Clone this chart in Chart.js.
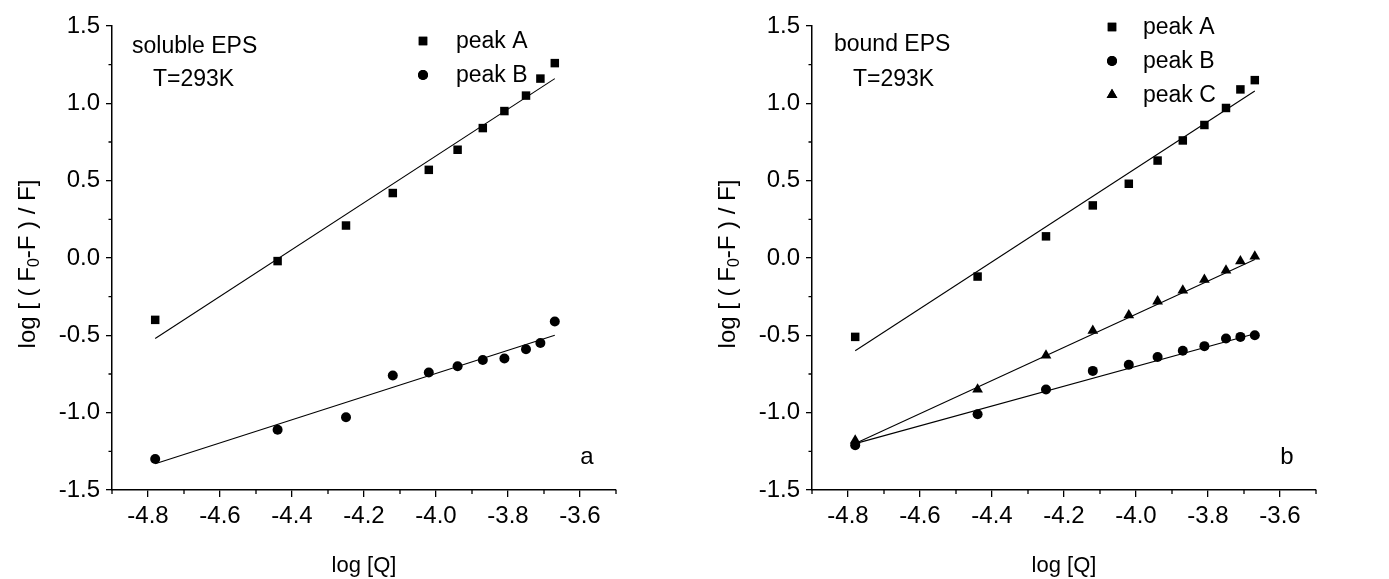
<!DOCTYPE html>
<html><head><meta charset="utf-8">
<script src="https://cdn.jsdelivr.net/npm/chart.js@4.4.1/dist/chart.umd.min.js"></script>
<style>
html,body{margin:0;padding:0;background:#fff;}
#wrap{position:relative;width:1389px;height:579px;overflow:hidden;background:#fff;}
canvas{position:absolute;top:0;}
</style></head><body>
<div id="wrap">
<canvas id="c1" width="700" height="579" style="left:0"></canvas>
<canvas id="c2" width="689" height="579" style="left:700px"></canvas>
</div>
<script>
// ---- data ----
const xLogQ = [-4.78, -4.44, -4.25, -4.12, -4.02, -3.94, -3.87, -3.81, -3.75, -3.71, -3.67];
const solublePeakA = [-0.40, -0.02, 0.21, 0.42, 0.57, 0.70, 0.84, 0.95, 1.05, 1.16, 1.26];
const solublePeakB = [-1.30, -1.11, -1.03, -0.76, -0.74, -0.70, -0.66, -0.65, -0.59, -0.55, -0.41];
const boundPeakA = [-0.51, -0.12, 0.14, 0.34, 0.48, 0.63, 0.76, 0.86, 0.97, 1.09, 1.15];
const boundPeakB = [-1.21, -1.01, -0.85, -0.73, -0.69, -0.64, -0.60, -0.57, -0.52, -0.51, -0.50];
const boundPeakC = [-1.18, -0.85, -0.63, -0.47, -0.37, -0.28, -0.21, -0.14, -0.08, -0.02, 0.01];
// fitted lines: endpoints
const fitX = [-4.78, -3.67];
const solubleFitA = [-0.52, 1.16];
const solubleFitB = [-1.33, -0.50];
const boundFitA = [-0.60, 1.08];
const boundFitB = [-1.20, -0.49];
const boundFitC = [-1.20, -0.01];
// ticks
const xTicks = [-4.8, -4.6, -4.4, -4.2, -4.0, -3.8, -3.6];
const xMinorTicks = [-4.9, -4.7, -4.5, -4.3, -4.1, -3.9, -3.7, -3.5];
const yTicks = [-1.5, -1.0, -0.5, 0.0, 0.5, 1.0, 1.5];
const yMinorTicks = [-1.25, -0.75, -0.25, 0.25, 0.75, 1.25];
const seriesLabels = ['peak A', 'peak B', 'peak C'];

const FONT = "'Liberation Sans', Arial, Helvetica, sans-serif";

function pts(xs, ys){ return xs.map((x,i)=>({x:x, y:ys[i]})); }

const decor = {
  id: 'decor',
  afterDraw(chart, args, o) {
    const {ctx, chartArea: ca, scales} = chart;
    const x = scales.x, y = scales.y;
    ctx.save();
    ctx.strokeStyle = '#000';
    ctx.lineWidth = 1.3;
    ctx.beginPath();
    xMinorTicks.forEach(v => { const px = x.getPixelForValue(v); ctx.moveTo(px, ca.bottom); ctx.lineTo(px, ca.bottom + 4); });
    yMinorTicks.forEach(v => { const py = y.getPixelForValue(v); ctx.moveTo(ca.left, py); ctx.lineTo(ca.left - 3.5, py); });
    ctx.stroke();

    ctx.fillStyle = '#000';
    // y axis title with subscript
    ctx.save();
    ctx.translate(28, 264);
    ctx.rotate(-Math.PI/2);
    const mainF = '24px ' + FONT, subF = '16px ' + FONT;
    const parts = [['log [ ( F', mainF, 0], ['0', subF, 7], ['-F ) / F]', mainF, 0]];
    let tw = 0;
    parts.forEach(p => { ctx.font = p[1]; tw += ctx.measureText(p[0]).width; });
    let cx = -tw/2;
    ctx.textBaseline = 'middle';
    ctx.textAlign = 'left';
    parts.forEach(p => { ctx.font = p[1]; ctx.fillText(p[0], cx, p[2]); cx += ctx.measureText(p[0]).width; });
    ctx.restore();

    // annotations
    ctx.font = '23px ' + FONT;
    ctx.textBaseline = 'middle';
    ctx.textAlign = 'left';
    o.notes.forEach(n => ctx.fillText(n[0], n[1], n[2]));
    ctx.textAlign = 'center';
    ctx.font = '24px ' + FONT;
    ctx.fillText(o.letter, 587, 457);

    // legend
    ctx.font = '23px ' + FONT;
    ctx.textAlign = 'left';
    chart.data.datasets.forEach((ds, i) => {
      if (!ds.inLegend) return;
      const row = o.legendRows[ds.legendIndex];
      Chart.helpers.drawPoint(ctx, {pointStyle: ds.pointStyle, radius: ds.pointRadius, rotation: 0, borderWidth: 0}, o.legendMarkX, row);
      ctx.fillStyle = '#000';
      ctx.fill();
      ctx.fillText(ds.label, o.legendTextX, row + 1);
    });
    ctx.restore();
  }
};

function makePanel(id, width, series, fits, decorOpts) {
  const styles = ['rect', 'circle', 'triangle'];
  const radii = [6, 5, 6.2];
  const datasets = [];
  series.forEach((s, i) => {
    datasets.push({
      label: seriesLabels[i], data: pts(xLogQ, s), pointStyle: styles[i], pointRadius: radii[i],
      backgroundColor: '#000', borderColor: '#000', borderWidth: 0, showLine: false,
      inLegend: true, legendIndex: i
    });
  });
  fits.forEach(f => {
    datasets.push({ label: 'fit', data: pts(fitX, f), showLine: true, pointRadius: 0,
      borderColor: '#000', borderWidth: 1.1, inLegend: false });
  });
  return new Chart(document.getElementById(id), {
    type: 'scatter',
    data: { datasets },
    options: {
      responsive: false, animation: false, devicePixelRatio: 1,
      layout: { padding: { left: 0, top: 26, right: width - 616, bottom: 0 } },
      plugins: { legend: { display: false }, tooltip: { enabled: false }, decor: decorOpts },
      scales: {
        x: {
          type: 'linear', position: 'bottom', min: -4.9, max: -3.5,
          afterBuildTicks: s => { s.ticks = xTicks.map(v => ({ value: v })); },
          afterFit: s => { s.height = 89; },
          ticks: { callback: v => Number(v).toFixed(1), color: '#000', font: { size: 24, family: FONT }, padding: 5, maxRotation: 0, autoSkip: false },
          grid: { display: true, drawOnChartArea: false, drawTicks: true, tickLength: 7, color: '#000', lineWidth: 1.3 },
          border: { display: true, color: '#000', width: 1.5 },
          title: { display: true, text: 'log [Q]', color: '#000', font: { size: 22, family: FONT }, padding: { top: 0, bottom: 0 } }
        },
        y: {
          type: 'linear', position: 'left', min: -1.5, max: 1.5,
          afterBuildTicks: s => { s.ticks = yTicks.map(v => ({ value: v })); },
          afterFit: s => { s.width = 112; },
          ticks: { callback: v => Number(v).toFixed(1), color: '#000', font: { size: 24, family: FONT }, padding: 6, autoSkip: false },
          grid: { display: true, drawOnChartArea: false, drawTicks: true, tickLength: 6, color: '#000', lineWidth: 1.3 },
          border: { display: true, color: '#000', width: 1.5 }
        }
      }
    },
    plugins: [decor]
  });
}

makePanel('c1', 700, [solublePeakA, solublePeakB], [solubleFitA, solubleFitB], {
  notes: [['soluble EPS', 132, 47], ['T=293K', 153, 80]], letter: 'a',
  legendMarkX: 423, legendTextX: 456, legendRows: [41, 75]
});
makePanel('c2', 689, [boundPeakA, boundPeakB, boundPeakC], [boundFitA, boundFitB, boundFitC], {
  notes: [['bound EPS', 134, 45], ['T=293K', 153, 80]], letter: 'b',
  legendMarkX: 412, legendTextX: 443, legendRows: [27, 61, 95]
});
</script>
</body></html>
